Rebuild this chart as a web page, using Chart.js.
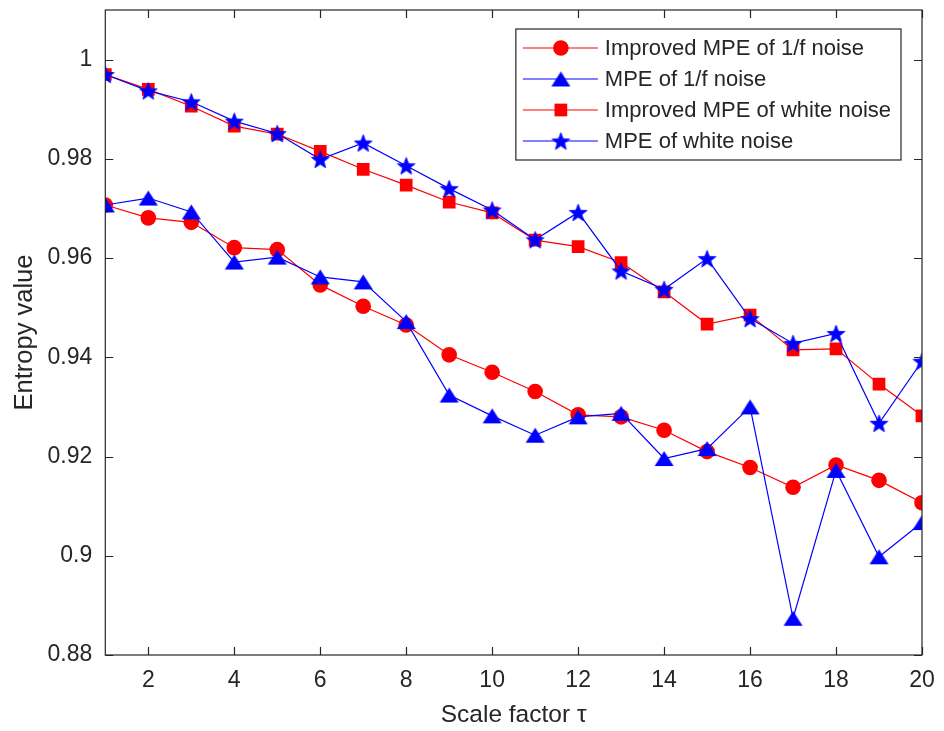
<!DOCTYPE html>
<html>
<head>
<meta charset="utf-8">
<script src="https://cdn.jsdelivr.net/npm/chart.js@4/dist/chart.umd.min.js"></script>
<style>
  html, body { margin: 0; padding: 0; background: #fff; }
  #wrap { width: 944px; height: 731px; position: relative; }
</style>
</head>
<body>
<div id="wrap"><canvas id="chart"></canvas></div>
<script>
// scale factor tau
const scaleFactors = [1, 2, 3, 4, 5, 6, 7, 8, 9, 10, 11, 12, 13, 14, 15, 16, 17, 18, 19, 20];
const improved1f = [0.9707, 0.9681, 0.9672, 0.9621, 0.9617, 0.9546, 0.9503, 0.9465, 0.9405, 0.9370,
                    0.9331, 0.9284, 0.9280, 0.9253, 0.9210, 0.9178, 0.9138, 0.9183, 0.9152, 0.9107];
const mpe1f = [0.9707, 0.9721, 0.9693, 0.9592, 0.9602, 0.9562, 0.9552, 0.9472, 0.9324, 0.9282,
               0.9243, 0.9280, 0.9287, 0.9196, 0.9216, 0.9300, 0.8874, 0.9172, 0.8998, 0.9067];
const improvedWhite = [0.9970, 0.9940, 0.9906, 0.9866, 0.9850, 0.9815, 0.9779, 0.9747, 0.9713, 0.9691,
                       0.9636, 0.9623, 0.9591, 0.9532, 0.9467, 0.9485, 0.9415, 0.9417, 0.9346, 0.9282];
const mpeWhite = [0.9970, 0.9937, 0.9915, 0.9876, 0.9851, 0.9799, 0.9832, 0.9786, 0.9740, 0.9697,
                  0.9637, 0.9692, 0.9574, 0.9537, 0.9599, 0.9478, 0.9428, 0.9448, 0.9267, 0.9392];
const seriesNames = ['Improved MPE of 1/f noise', 'MPE of 1/f noise', 'Improved MPE of white noise', 'MPE of white noise'];
const xTicks = [2, 4, 6, 8, 10, 12, 14, 16, 18, 20];
const yTicks = [0.88, 0.90, 0.92, 0.94, 0.96, 0.98, 1.00];

const RED = '#ff0000', BLUE = '#0000ff', AXIS = '#262626';
const FONT = '"Liberation Sans", Arial, Helvetica, sans-serif';

// filled marker shapes (MATLAB-like) as small canvases
function makeTriangle(w, h, color) {
  const c = document.createElement('canvas');
  c.width = w + 2; c.height = h + 2;
  const g = c.getContext('2d');
  g.fillStyle = color;
  g.beginPath();
  g.moveTo(1 + w / 2, 1);
  g.lineTo(1 + w, 1 + h);
  g.lineTo(1, 1 + h);
  g.closePath();
  g.fill();
  return c;
}
function makeStar(r, color) {
  const s = Math.ceil(r * 2 + 2);
  const c = document.createElement('canvas');
  c.width = s; c.height = s;
  const g = c.getContext('2d');
  const cx = s / 2, cy = s / 2 + r * 0.1, ri = r * 0.42;
  g.fillStyle = color;
  g.strokeStyle = color;
  g.lineWidth = 0.8;
  g.beginPath();
  for (let i = 0; i < 10; i++) {
    const a = -Math.PI / 2 + i * Math.PI / 5;
    const rr = i % 2 === 0 ? r : ri;
    g.lineTo(cx + Math.cos(a) * rr, cy + Math.sin(a) * rr);
  }
  g.closePath();
  g.fill();
  g.stroke();
  return c;
}
const triImg = makeTriangle(19, 15, BLUE);
const starImg = makeStar(9.3, BLUE);

function toPoints(arr) { return arr.map((v, i) => ({ x: scaleFactors[i], y: v })); }

// inward ticks + box, MATLAB style
const boxTicks = {
  id: 'boxTicks',
  afterDatasetsDraw(chart) {
    const { ctx, chartArea: a, scales: { x, y } } = chart;
    const L = 8;
    ctx.save();
    ctx.strokeStyle = AXIS;
    ctx.lineWidth = 1.2;
    ctx.beginPath();
    xTicks.forEach(t => {
      const px = Math.round(x.getPixelForValue(t)) + 0.5;
      ctx.moveTo(px, a.bottom); ctx.lineTo(px, a.bottom - L);
      ctx.moveTo(px, a.top); ctx.lineTo(px, a.top + L);
    });
    yTicks.forEach(t => {
      const py = Math.round(y.getPixelForValue(t)) + 0.5;
      ctx.moveTo(a.left, py); ctx.lineTo(a.left + L, py);
      ctx.moveTo(a.right, py); ctx.lineTo(a.right - L, py);
    });
    ctx.stroke();
    ctx.strokeRect(a.left, a.top, a.right - a.left, a.bottom - a.top);
    ctx.restore();
  }
};

// legend box inside the top-right corner
const insideLegend = {
  id: 'insideLegend',
  afterDraw(chart) {
    const { ctx, chartArea: a } = chart;
    ctx.save();
    ctx.font = '22px ' + FONT;
    const ds = chart.data.datasets;
    const tw = Math.max(...ds.map(d => ctx.measureText(d.label).width));
    const w = 89 + tw + 10, h = 131;
    const left = a.right - 21 - w, top = a.top + 19;
    ctx.fillStyle = '#fff';
    ctx.fillRect(left, top, w, h);
    ctx.strokeStyle = AXIS;
    ctx.lineWidth = 1.2;
    ctx.strokeRect(left, top, w, h);
    ds.forEach((d, i) => {
      const cy = top + 19 + i * 31;
      ctx.strokeStyle = d.borderColor;
      ctx.lineWidth = d.borderWidth;
      ctx.beginPath();
      ctx.moveTo(left + 7, cy); ctx.lineTo(left + 82, cy);
      ctx.stroke();
      ctx.fillStyle = d.pointBackgroundColor;
      ctx.strokeStyle = d.pointBorderColor;
      Chart.helpers.drawPoint(ctx, {
        pointStyle: d.pointStyle, radius: d.pointRadius, rotation: 0, borderWidth: 0
      }, left + 45, cy);
      ctx.fillStyle = AXIS;
      ctx.textBaseline = 'middle';
      ctx.textAlign = 'left';
      ctx.fillText(d.label, left + 89, cy + 1);
    });
    ctx.restore();
  }
};

const mk = (label, data, color, style, radius, order) => ({
  label, data: toPoints(data), borderColor: color, borderWidth: 1.2,
  pointStyle: style, pointRadius: radius, pointBackgroundColor: color,
  pointBorderColor: color, pointBorderWidth: 0, order, tension: 0
});

new Chart(document.getElementById('chart'), {
  type: 'line',
  data: {
    datasets: [
      mk(seriesNames[0], improved1f, RED, 'circle', 7.8, 4),
      mk(seriesNames[1], mpe1f, BLUE, triImg, 9, 3),
      mk(seriesNames[2], improvedWhite, RED, 'rect', 9, 2),
      mk(seriesNames[3], mpeWhite, BLUE, starImg, 9.3, 1)
    ]
  },
  options: {
    responsive: true, maintainAspectRatio: false, animation: false, events: [],
    layout: { padding: { top: 10, right: 22, left: 0, bottom: 0 } },
    plugins: { legend: { display: false }, tooltip: { enabled: false } },
    scales: {
      x: {
        type: 'linear', min: 1, max: 20,
        afterBuildTicks: s => { s.ticks = xTicks.map(v => ({ value: v })); },
        afterFit: s => { s.height = 76; s.paddingLeft = 0; s.paddingRight = 0; },
        grid: { display: false, drawTicks: false, tickLength: 0 },
        border: { display: false },
        ticks: { color: AXIS, font: { family: FONT, size: 23 }, padding: 12, maxRotation: 0 },
        title: { display: true, text: 'Scale factor τ', color: AXIS,
                 font: { family: FONT, size: 24.5 }, padding: { top: 0, bottom: 1 } }
      },
      y: {
        min: 0.88, max: 1.01,
        afterBuildTicks: s => { s.ticks = yTicks.map(v => ({ value: v })); },
        afterFit: s => { s.width = 105.3; s.paddingTop = 0; s.paddingBottom = 0; },
        grid: { display: false, drawTicks: false, tickLength: 0 },
        border: { display: false },
        ticks: { color: AXIS, font: { family: FONT, size: 23 }, padding: 13,
                 callback: v => String(Number(v.toFixed(2))) },
        title: { display: true, text: 'Entropy value', color: AXIS,
                 font: { family: FONT, size: 25.5 }, padding: { top: 10, bottom: 0 } }
      }
    }
  },
  plugins: [boxTicks, insideLegend]
});
</script>
</body>
</html>
